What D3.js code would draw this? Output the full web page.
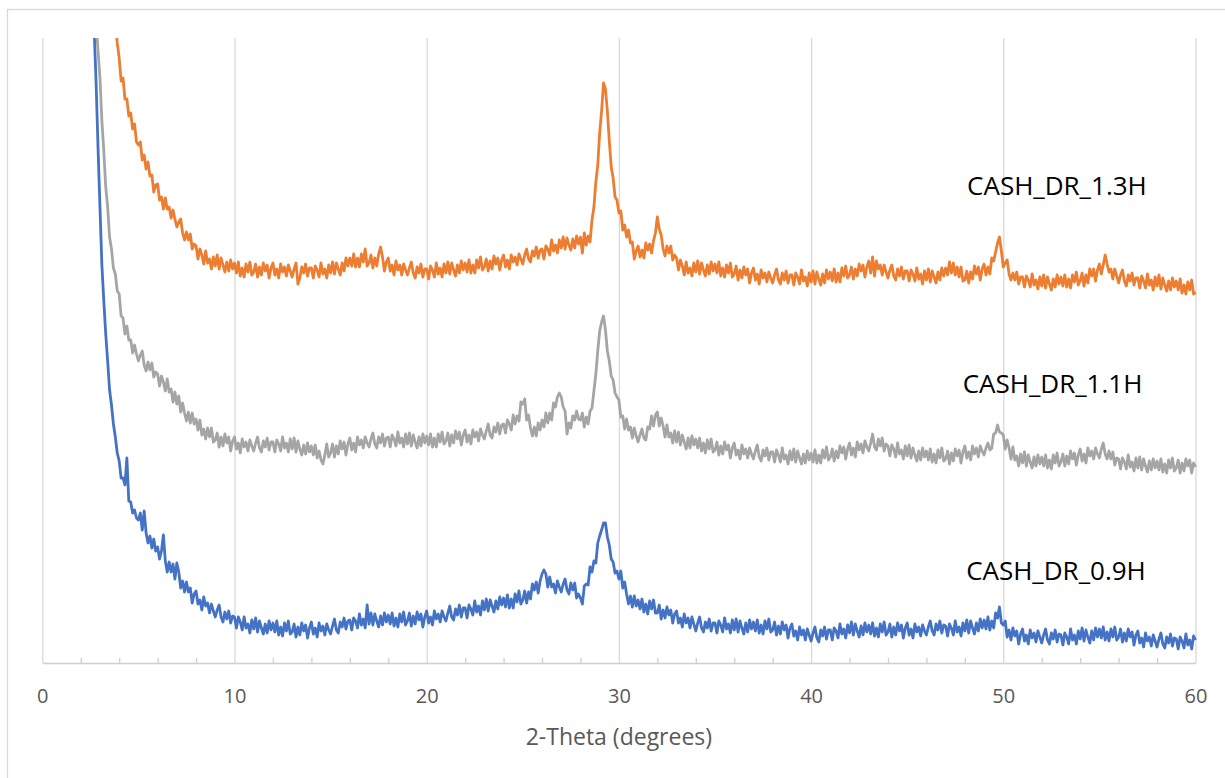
<!DOCTYPE html>
<html>
<head>
<meta charset="utf-8">
<script src="https://cdn.jsdelivr.net/npm/d3@7"></script>
<style>
  html, body { margin: 0; padding: 0; background: #ffffff; }
  svg { display: block; }
</style>
</head>
<body>
<svg id="chart" width="1225" height="778"></svg>
<script>
// XRD scan: 2-theta from 2.5 deg to 60.0 deg, one reading every 0.1 deg
const scanStart = 2.5;
const scanStep = 0.1;

const seriesNames = ["CASH_DR_0.9H", "CASH_DR_1.1H", "CASH_DR_1.3H"];
const xTickValues = [0, 10, 20, 30, 40, 50, 60];
const xMinorTickValues = [2, 4, 6, 8, 12, 14, 16, 18, 22, 24, 26, 28, 32, 34, 36, 38, 42, 44, 46, 48, 52, 54, 56, 58];

// Intensity (arbitrary units, stacked offsets), one row per degree
const counts09 = [
  760,700,632,580,515,
  456,398,362,329,302,273,258,239,226,210,
  202,185,185,178,205,162,161,150,153,145,
  143,150,133,152,130,120,127,115,124,112,
  116,104,112,128,102,91,101,91,99,84,
  100,91,75,82,71,81,71,75,60,69,
  72,59,63,53,66,57,60,50,59,52,
  46,53,58,46,41,51,44,52,40,47,
  46,35,46,41,33,46,35,39,30,43,
  34,45,31,42,35,29,39,30,42,33,
  40,31,42,28,36,27,40,32,42,29,
  31,39,26,36,28,40,32,38,25,35,
  41,29,35,26,40,32,37,28,39,33,
  29,37,44,33,30,41,36,45,34,42,
  43,33,45,42,35,49,38,44,35,58,
  39,50,38,49,42,36,47,38,50,41,
  48,39,50,37,45,36,49,41,51,38,
  42,50,37,47,39,51,43,49,36,46,
  52,40,46,38,52,44,49,41,52,46,
  42,50,57,46,43,54,48,58,46,55,
  55,45,58,54,48,62,51,57,48,62,
  53,64,52,63,57,51,62,54,66,58,
  65,56,68,55,64,55,69,61,72,59,
  63,72,60,71,64,79,73,81,70,82,
  89,93,89,76,86,76,79,70,82,76,
  71,79,84,73,69,80,73,80,65,69,
  65,59,77,79,78,96,91,102,100,120,
  127,133,140,140,126,118,104,101,90,92,
  84,92,75,81,69,59,67,56,67,57,
  63,54,64,51,59,49,62,54,63,50,
  50,58,44,53,45,56,48,53,40,49,
  52,40,45,36,49,40,45,35,46,39,
  32,40,46,35,31,41,35,44,32,40,
  40,30,42,38,31,45,34,39,30,43,
  33,44,31,42,35,29,40,31,43,34,
  41,32,43,30,38,29,42,34,44,31,
  33,41,28,37,29,41,33,38,25,35,
  39,27,32,23,36,28,33,23,34,28,
  22,30,36,25,21,33,27,36,24,33,
  33,23,35,32,25,39,29,34,25,38,
  30,41,28,39,32,26,37,28,40,31,
  38,29,40,27,35,26,39,31,41,28,
  31,39,26,36,28,40,32,38,25,35,
  40,28,34,25,39,31,36,27,38,32,
  28,36,42,32,28,39,33,42,30,38,
  37,27,39,35,28,42,31,36,27,40,
  32,43,30,42,35,29,40,32,44,35,
  43,34,46,33,42,35,50,45,56,40,
  38,42,26,33,23,35,27,32,19,29,
  34,22,28,19,33,25,30,21,32,26,
  20,28,34,23,19,30,24,33,21,29,
  28,18,30,26,19,34,23,28,19,32,
  24,35,22,33,26,20,32,23,35,26,
  34,25,36,23,31,22,34,26,36,23,
  26,34,21,30,22,34,26,31,18,28,
  32,20,25,16,30,22,26,17,28,22,
  16,24,30,19,15,26,20,29,17,25,
  24,14,26,22,15,29,18,23,14,27,
  23
];

const counts11 = [
  760,720,680,640,612,
  585,542,512,476,456,426,414,395,389,372,
  369,347,345,329,337,323,323,310,318,309,
  302,308,312,298,292,301,293,300,286,291,
  289,277,287,281,272,284,271,274,261,271,
  259,267,251,260,250,242,251,240,250,239,
  244,233,243,228,234,224,235,226,235,221,
  223,230,216,226,217,229,220,226,212,222,
  226,214,220,210,224,216,221,212,223,217,
  212,220,226,215,211,222,216,225,213,221,
  221,211,223,219,212,226,215,220,211,224,
  214,225,211,222,214,208,218,209,220,211,
  217,208,218,205,212,203,199,208,219,206,
  210,219,206,217,209,222,214,221,208,219,
  225,213,220,211,226,218,223,215,226,220,
  216,224,230,219,215,226,220,229,217,225,
  226,216,228,224,217,231,220,225,216,229,
  219,230,217,228,221,215,226,217,229,220,
  227,218,229,216,225,216,229,221,231,219,
  222,230,217,228,220,232,224,231,218,228,
  233,221,228,219,233,226,231,222,234,228,
  224,232,239,228,225,236,231,240,229,238,
  239,230,243,239,233,248,239,247,242,261,
  259,264,243,248,235,227,236,227,240,233,
  243,236,250,240,250,243,260,256,266,270,
  266,256,252,229,240,235,247,243,252,244,
  243,250,236,246,239,252,255,272,289,312,
  332,341,347,333,312,302,287,283,270,266,
  263,246,247,234,244,233,236,225,235,227,
  221,228,234,225,223,236,234,247,237,248,
  251,237,245,237,226,238,226,230,220,232,
  221,231,218,228,221,214,225,215,227,218,
  224,215,225,212,220,210,223,214,224,211,
  213,221,208,217,209,221,213,218,205,215,
  220,208,213,204,218,209,214,205,215,209,
  204,212,218,206,202,213,207,215,203,211,
  211,201,213,208,201,215,204,208,199,212,
  203,214,201,212,205,199,209,200,212,203,
  210,201,213,200,208,200,213,205,216,203,
  206,214,202,212,205,217,210,216,204,214,
  220,208,215,206,221,213,219,210,222,216,
  212,220,229,216,213,224,217,225,212,219,
  217,207,218,214,206,220,209,213,204,217,
  207,218,205,215,208,202,212,203,215,206,
  212,203,214,201,209,200,213,205,215,202,
  204,212,199,210,202,214,207,213,200,211,
  217,205,211,203,217,209,215,206,217,212,
  208,215,220,213,215,229,230,238,231,230,
  228,214,223,215,204,216,203,207,197,209,
  200,211,197,208,201,195,206,197,208,199,
  206,197,208,195,203,194,208,200,210,197,
  201,209,197,207,199,212,204,210,198,208,
  214,202,209,200,215,207,212,204,215,209,
  205,214,220,209,204,212,204,211,198,205,
  204,194,205,201,194,208,196,201,192,205,
  195,206,193,204,197,191,202,193,204,195,
  202,193,204,191,199,190,203,195,205,192,
  195,203,190,200,192,204,197,203,190,200,
  196
];

const counts13 = [
  900,880,860,840,820,
  800,780,760,740,720,700,680,660,641,620,
  605,582,585,564,564,547,550,534,539,521,
  518,521,503,508,494,501,487,488,471,478,
  479,463,466,454,465,454,456,445,453,444,
  436,441,444,430,423,431,423,429,414,419,
  417,404,414,408,399,412,400,404,394,406,
  397,408,394,405,398,391,401,392,403,394,
  400,390,401,387,395,386,399,391,401,388,
  391,399,386,396,388,400,392,398,385,395,
  400,388,394,385,399,391,396,387,398,392,
  386,394,400,379,385,396,390,399,387,395,
  395,385,397,393,386,400,389,394,385,398,
  390,401,389,400,394,388,400,392,405,397,
  405,397,409,396,405,396,409,401,414,397,
  400,408,395,405,397,409,416,406,392,401,
  405,392,398,388,402,393,398,388,399,393,
  388,395,401,390,385,396,390,399,386,394,
  394,384,397,393,386,400,389,395,386,399,
  390,401,389,400,393,387,398,390,402,393,
  400,391,403,390,398,390,403,395,406,393,
  396,404,392,402,394,407,399,405,393,403,
  408,396,403,394,408,401,406,398,409,404,
  399,408,414,404,401,412,407,416,405,413,
  414,404,417,414,408,423,412,418,410,423,
  415,426,414,425,418,413,424,415,427,419,
  426,410,430,418,427,421,443,456,481,498,
  530,552,580,574,552,522,496,485,466,463,
  450,452,433,438,426,433,420,421,404,412,
  417,406,413,405,420,413,419,410,422,430,
  446,434,428,414,407,417,410,417,403,408,
  405,393,403,397,388,401,390,395,387,400,
  391,402,389,400,393,387,398,389,401,392,
  399,390,401,387,395,386,398,390,400,386,
  389,397,383,393,385,396,388,394,380,390,
  395,383,389,379,393,385,390,381,391,385,
  380,388,394,383,379,390,383,392,380,388,
  388,378,390,386,379,393,382,386,377,390,
  381,392,379,391,384,378,389,380,393,384,
  391,382,394,381,390,381,395,387,397,385,
  388,396,384,394,387,399,392,398,386,396,
  402,390,406,387,402,394,398,388,398,391,
  385,393,398,387,383,394,387,396,384,392,
  392,382,393,389,382,395,384,389,379,392,
  383,394,381,392,386,380,391,383,395,387,
  395,388,401,390,400,388,396,386,396,382,
  383,392,380,391,384,397,389,396,383,394,
  399,388,396,389,405,402,411,420,426,412,
  396,400,403,389,383,390,383,391,379,386,
  386,376,387,383,376,389,378,383,374,386,
  377,388,375,386,379,373,384,376,388,379,
  386,377,388,376,384,375,388,381,391,378,
  382,390,377,388,380,394,387,394,382,393,
  399,389,398,408,399,391,394,384,394,387,
  380,388,393,382,377,388,382,390,378,385,
  385,375,387,382,375,389,378,383,373,386,
  377,388,374,385,378,372,382,373,385,376,
  382,373,384,370,378,369,381,373,383,369,
  371
];

const seriesColors = ["#4472C4", "#A5A5A5", "#ED7D31"];

// ---- layout ----
const plot = { left: 42.3, right: 1195.5, top: 38, bottom: 663 };
const labelFont = "'Open Sans', 'Noto Sans', sans-serif";

const svg = d3.select("#chart");

const x = d3.scaleLinear().domain([0, 60]).range([plot.left, plot.right]);
const y = d3.scaleLinear().domain([0, 625]).range([plot.bottom, plot.top]);

// outer chart frame
svg.append("rect")
  .attr("x", 7.5).attr("y", 9.5)
  .attr("width", 1400).attr("height", 1000)
  .attr("fill", "none")
  .attr("stroke", "#d9d9d9")
  .attr("stroke-width", 1.3);

// vertical major gridlines
svg.append("g")
  .attr("transform", `translate(0,${plot.bottom})`)
  .call(d3.axisBottom(x).tickValues(xTickValues).tickSize(-(plot.bottom - plot.top)).tickFormat(""))
  .call(g => g.select(".domain").remove())
  .call(g => g.selectAll("line").attr("stroke", "#d9d9d9").attr("stroke-width", 1.3));

// minor tick marks (inside, pointing up)
svg.append("g")
  .attr("transform", `translate(0,${plot.bottom})`)
  .call(d3.axisBottom(x).tickValues(xMinorTickValues).tickSize(-5).tickFormat(""))
  .call(g => g.select(".domain").remove())
  .call(g => g.selectAll("line").attr("stroke", "#cfcfcf").attr("stroke-width", 1.3));

// x axis baseline and labels
const xAxis = svg.append("g")
  .attr("transform", `translate(0,${plot.bottom})`)
  .call(d3.axisBottom(x).tickValues(xTickValues).tickSize(0).tickPadding(26).tickFormat(d3.format("d")));
xAxis.select(".domain").attr("stroke", "#cfcfcf").attr("stroke-width", 1.3);
xAxis.selectAll("text")
  .attr("fill", "#595959")
  .style("font-family", labelFont)
  .style("font-size", "20px");

// axis title
svg.append("text")
  .attr("x", (plot.left + plot.right) / 2)
  .attr("y", 745)
  .attr("text-anchor", "middle")
  .attr("fill", "#595959")
  .style("font-family", labelFont)
  .style("font-size", "23px")
  .text("2-Theta (degrees)");

// clip the traces to the plot area
svg.append("defs").append("clipPath").attr("id", "plotClip")
  .append("rect")
  .attr("x", plot.left).attr("y", plot.top)
  .attr("width", plot.right - plot.left + 2)
  .attr("height", plot.bottom - plot.top);

const twoTheta = i => +(scanStart + i * scanStep).toFixed(1);
const allCounts = [counts09, counts11, counts13];

const line = d3.line()
  .x((d, i) => x(twoTheta(i)))
  .y(d => y(d));

const traces = svg.append("g").attr("clip-path", "url(#plotClip)");
allCounts.forEach((counts, k) => {
  traces.append("path")
    .datum(counts)
    .attr("fill", "none")
    .attr("stroke", seriesColors[k])
    .attr("stroke-width", 2.8)
    .attr("stroke-linejoin", "round")
    .attr("d", line);
});

// series captions beside each trace
const captionAt = [
  { deg: 52.74, level: 83 },
  { deg: 52.56, level: 270 },
  { deg: 52.79, level: 468 }
];
seriesNames.forEach((name, k) => {
  svg.append("text")
    .attr("x", x(captionAt[k].deg))
    .attr("y", y(captionAt[k].level))
    .attr("text-anchor", "middle")
    .attr("fill", "#000000")
    .style("font-family", labelFont)
    .style("font-size", "26px")
    .text(name);
});
</script>
</body>
</html>
